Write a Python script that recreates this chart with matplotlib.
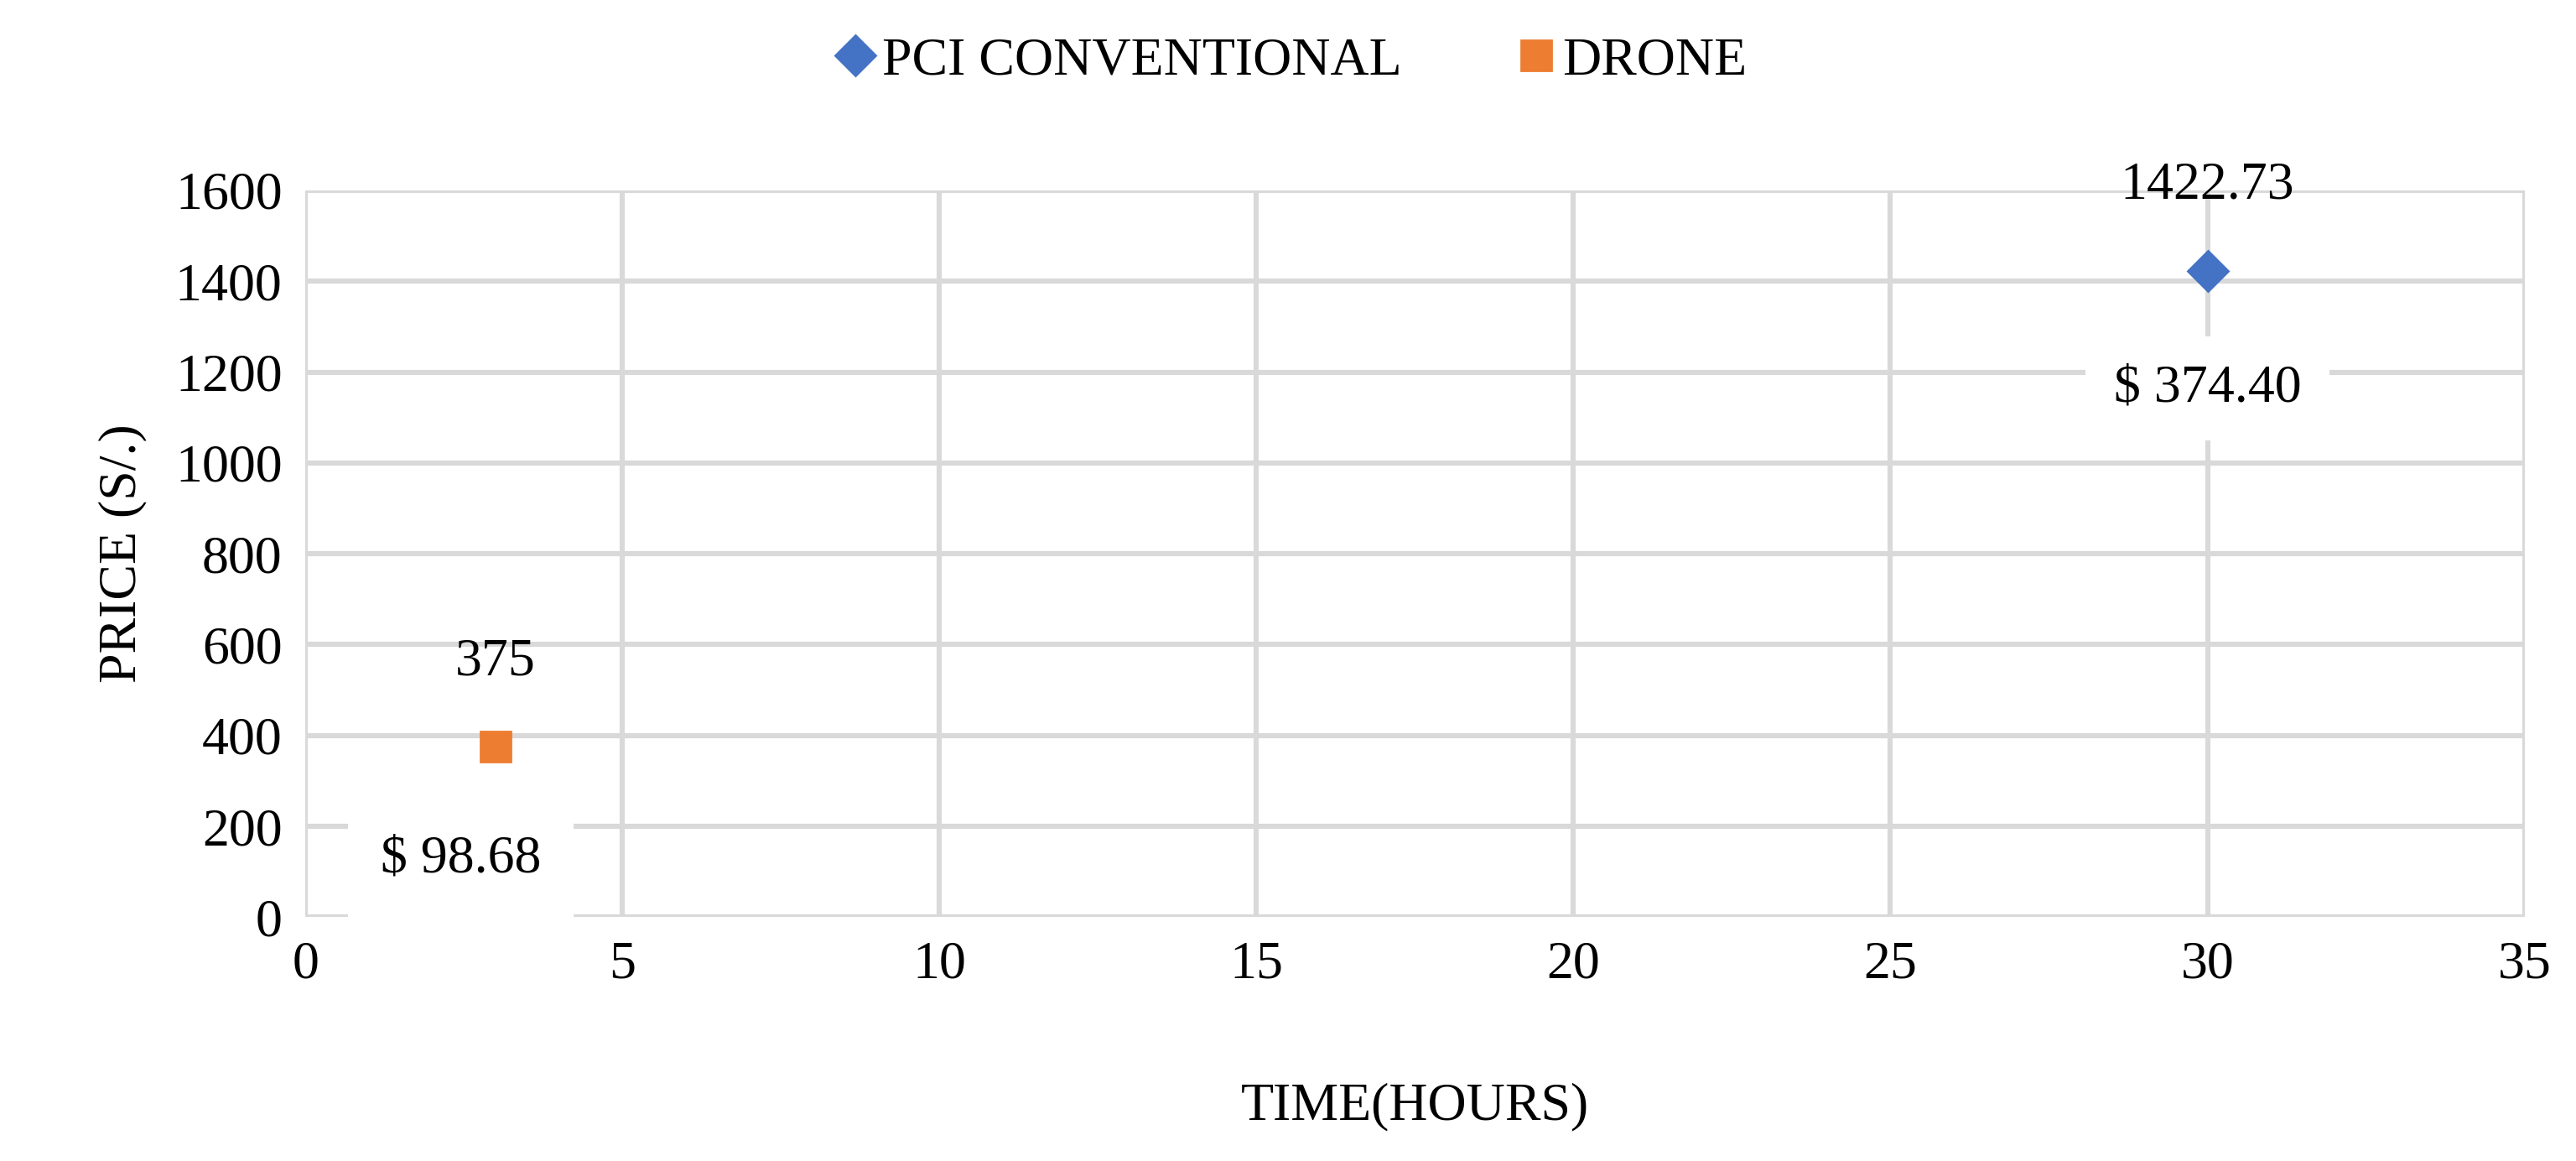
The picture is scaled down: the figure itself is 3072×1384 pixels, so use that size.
import matplotlib
matplotlib.use("Agg")
import matplotlib.pyplot as plt

series = ["PCI CONVENTIONAL", "DRONE"]
times = [30, 3]
prices = [1422.73, 375]
cost_labels = ["$ 374.40", "$ 98.68"]
value_labels = ["1422.73", "375"]
colors = ["#4472C4", "#ED7D31"]
markers = ["D", "s"]

plt.rcParams['font.family'] = ['Liberation Serif', 'DejaVu Serif']
FS = 23
fig = plt.figure(figsize=(15.36, 6.92), dpi=200)
ax = fig.add_axes([0.1186, 0.21, 0.8614, 0.626])
for s, t, p, c, m in zip(series, times, prices, colors, markers):
    ax.plot([t], [p], linestyle='none', marker=m, color=c, markersize=12 if m == "D" else 13, label=s, zorder=5)
ax.set_xlim(0, 35)
ax.set_ylim(0, 1600)
ax.set_xticks(range(0, 36, 5))
ax.set_yticks(range(0, 1601, 200))
ax.grid(True, color='#D9D9D9', linewidth=2.2)
for sp in ax.spines.values():
    sp.set_visible(False)
ax.tick_params(length=0, labelsize=FS, pad=10)
ax.set_axisbelow(True)

ax.annotate(value_labels[0], (times[0], prices[0]), xytext=(0, 26), textcoords='offset points', ha='center', va='bottom', fontsize=FS)
ax.annotate(value_labels[1], (times[1], prices[1]), xytext=(0, 26), textcoords='offset points', ha='center', va='bottom', fontsize=FS)
ax.annotate(cost_labels[0], (times[0], prices[0]), xytext=(0, -40), textcoords='offset points', ha='center', va='top', fontsize=FS,
            bbox=dict(facecolor='white', edgecolor='none', pad=12))
ax.annotate(cost_labels[1], (times[1], prices[1]), xytext=(-15, -38), textcoords='offset points', ha='center', va='top', fontsize=FS,
            bbox=dict(facecolor='white', edgecolor='none', pad=14))

ax.set_xlabel("TIME(HOURS)", fontsize=FS, labelpad=40)
ax.set_ylabel("PRICE (S/.)", fontsize=FS, labelpad=12)
fig.legend(loc='upper center', bbox_to_anchor=(0.5, 1.01), ncol=2, frameon=False, fontsize=FS,
           handletextpad=0.0, columnspacing=2.0, markerscale=1.0, handlelength=1.0)
fig.savefig("out.png", dpi=200, facecolor='white')
